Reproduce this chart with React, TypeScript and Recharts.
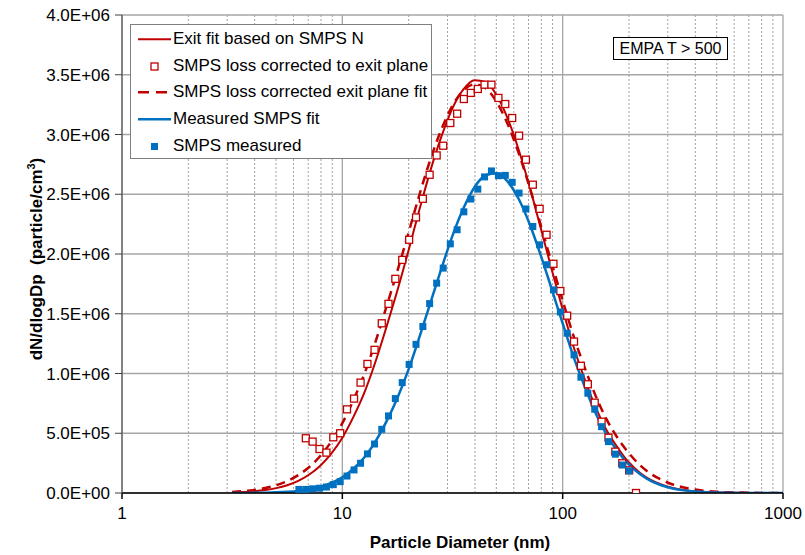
import React from 'react';
import {
  ComposedChart,
  Line,
  Scatter,
  XAxis,
  YAxis,
  CartesianGrid,
  ReferenceLine
} from 'recharts';

// SMPS channel mid-points (nm)
const SMPS_DIAM = [
  6.35, 6.83, 7.33, 7.88, 8.47, 9.10, 9.78, 10.5, 11.3, 12.1,
  13.0, 14.0, 15.1, 16.2, 17.4, 18.7, 20.1, 21.6, 23.2, 24.9,
  26.8, 28.7, 30.9, 33.2, 35.6, 38.3, 41.2, 44.2, 47.5, 51.1,
  54.9, 59.0, 63.4, 68.1, 73.2, 78.6, 84.5, 90.8, 97.6, 104.8,
  112.6, 121.0, 130.1, 139.8, 150.2, 161.4, 173.4, 186.4, 200.3, 215.2
];

// SMPS loss corrected to exit plane (red open squares)
const LOSS_CORRECTED = [
  null, 458000, 430000, 368000, 338000, 466000, 500000, 700000, 790000, 924000,
  1080000, 1198000, 1420000, 1583000, 1792000, 1951000, 2119000, 2306000, 2462000, 2663000,
  2825000, 2906000, 3096000, 3174000, 3297000, 3348000, 3381000, 3417000, 3417000, 3306000,
  3255000, 3138000, 2990000, 2789000, 2580000, 2378000, 2161000, 1918000, 1690000, 1484000,
  1267000, 1064000, 910000, 756000, 597000, 463000, 346000, 249000, 190000, 0
];

// SMPS measured (blue filled squares)
const MEASURED = [
  30000, 30000, 35000, 40000, 50000, 70000, 95000, 142000, 193000, 249000,
  327000, 410000, 533000, 645000, 790000, 924000, 1076000, 1244000, 1393000, 1585000,
  1756000, 1882000, 2085000, 2203000, 2353000, 2460000, 2543000, 2645000, 2695000, 2655000,
  2658000, 2600000, 2510000, 2377000, 2230000, 2077000, 1910000, 1700000, 1515000, 1337000,
  1156000, 969000, 835000, 701000, 555000, 430000, 325000, 234000, 185000, null
];

// diameters where the fitted curves were read (nm)
const FIT_DIAM = [
  3.16, 3.55, 3.98, 4.47, 5.01, 5.62, 6.31, 7.08, 7.94, 8.91,
  10, 11.2, 12.6, 14.1, 15.8, 17.8, 20.0, 22.4, 25.1, 28.2,
  31.6, 35.5, 39.8, 44.7, 50.1, 56.2, 63.1, 70.8, 79.4, 89.1,
  100, 112, 126, 141, 158, 178, 200, 224, 251, 282,
  316, 355, 398, 447, 501, 562, 631, 708, 794, 891, 1000
];

const EXIT_FIT = [
  4700, 8400, 14600, 24700, 40600, 65200, 101700, 154500, 228700, 329700,
  462600, 632800, 842000, 1092000, 1380000, 1698000, 2034000, 2374000, 2698000, 2986000,
  3219000, 3379000, 3455000, 3439000, 3331000, 3137000, 2875000, 2562000, 2221000, 1873000,
  1536000, 1226000, 951000, 718000, 527000, 377000, 255000, 170000, 110000, 70000,
  43000, 26000, 15400, 9000, 5000, 2700, 1500, 760, 380, 180, 90
];

const LOSS_FIT = [
  9400, 15800, 26000, 41800, 65500, 100100, 149500, 218000, 310000, 431000,
  584000, 773000, 998000, 1258000, 1549000, 1861000, 2182000, 2498000, 2792000, 3045000,
  3242000, 3370000, 3420000, 3387000, 3274000, 3090000, 2846000, 2559000, 2246000, 1925000,
  1610000, 1314000, 1047000, 815000, 618000, 458000, 332000, 234000, 161000, 109000,
  71400, 45800, 28700, 17500, 10400, 6100, 3400, 1900, 1000, 550, 280
];

const MEASURED_FIT = [
  330, 690, 1400, 2800, 5300, 9900, 17700, 30700, 51600, 84000,
  132000, 202000, 299000, 428000, 593000, 797000, 1036000, 1306000, 1592000, 1881000,
  2152000, 2385000, 2559000, 2659000, 2676000, 2608000, 2462000, 2251000, 1993000, 1709000,
  1419000, 1141000, 889000, 670000, 490000, 347000, 237000, 158000, 101000, 63000,
  38000, 22000, 12500, 6900, 3600, 1900, 900, 450, 200, 100, 40
];

const X_TICKS = [1, 10, 100, 1000];
const X_MINOR = [2, 3, 4, 5, 6, 7, 8, 9, 20, 30, 40, 50, 60, 70, 80, 90, 200, 300, 400, 500, 600, 700, 800, 900];
const Y_TICKS = [0, 500000, 1000000, 1500000, 2000000, 2500000, 3000000, 3500000, 4000000];

const RED = '#c00000';
const BLUE = '#0070c0';
const FONT = '"Liberation Sans", Arial, sans-serif';

const toPoints = (xs: number[], ys: (number | null)[]) =>
  xs.map((d, i) => ({ d, v: ys[i] })).filter(p => p.v !== null);

const lossPts = toPoints(SMPS_DIAM, LOSS_CORRECTED);
const measPts = toPoints(SMPS_DIAM, MEASURED);
const exitFit = toPoints(FIT_DIAM, EXIT_FIT);
const lossFit = toPoints(FIT_DIAM, LOSS_FIT);
const measFit = toPoints(FIT_DIAM, MEASURED_FIT);

const fmtSci = (v: number) => {
  if (v === 0) return '0.0E+00';
  const e = Math.floor(Math.log10(v));
  const m = v / Math.pow(10, e);
  return `${m.toFixed(1)}E+${String(e).padStart(2, '0')}`;
};

const OpenSquare = (props: any) => (
  <rect x={props.cx - 3.5} y={props.cy - 3.5} width={7} height={7} fill="#fff" stroke={RED} strokeWidth={1.3} />
);

const FilledSquare = (props: any) => (
  <rect x={props.cx - 3.5} y={props.cy - 3.5} width={7} height={7} fill={BLUE} />
);

const legendRows = [
  { label: 'Exit fit based on SMPS N', kind: 'line', color: RED, dash: undefined, width: 2 },
  { label: 'SMPS loss corrected to exit plane', kind: 'open', color: RED },
  { label: 'SMPS loss corrected exit plane fit', kind: 'line', color: RED, dash: '11 7', width: 2.5 },
  { label: 'Measured SMPS fit', kind: 'line', color: BLUE, dash: undefined, width: 2.5 },
  { label: 'SMPS measured', kind: 'filled', color: BLUE }
];

const ChartLegend = () => (
  <div style={{
    position: 'absolute', left: 130, top: 24, width: 300, height: 133,
    border: '1px solid #7f7f7f', background: '#fff', fontFamily: FONT, fontSize: 17
  }}>
    {legendRows.map((r, i) => (
      <div key={i} style={{ position: 'absolute', left: 0, top: 1 + i * 26.7, height: 26.7, width: '100%' }}>
        <svg width={36} height={26.7} style={{ position: 'absolute', left: 6, top: 0 }}>
          {r.kind === 'line' && (
            <line x1={1} x2={34} y1={13.3} y2={13.3} stroke={r.color} strokeWidth={r.width} strokeDasharray={r.dash} />
          )}
          {r.kind === 'open' && <rect x={14} y={10} width={7} height={7} fill="#fff" stroke={r.color} strokeWidth={1.3} />}
          {r.kind === 'filled' && <rect x={14} y={10} width={7} height={7} fill={r.color} />}
        </svg>
        <span style={{ position: 'absolute', left: 42, top: 0, lineHeight: '26.7px', whiteSpace: 'nowrap', color: '#000' }}>
          {r.label}
        </span>
      </div>
    ))}
  </div>
);

export default function App() {
  return (
    <div style={{ position: 'absolute', left: 0, top: 0, width: 805, height: 555, background: '#fff', fontFamily: FONT }}>
      <ComposedChart width={805} height={555} margin={{ top: 15, right: 22, left: 0, bottom: 0 }}>
        <CartesianGrid stroke="#a6a6a6" strokeWidth={1.3} />
        {X_MINOR.map(x => (
          <ReferenceLine key={x} x={x} stroke="#a0a0a0" strokeDasharray="2 2" strokeWidth={1} />
        ))}
        <XAxis
          type="number"
          dataKey="d"
          scale="log"
          domain={[1, 1000]}
          ticks={X_TICKS}
          allowDataOverflow
          height={62}
          tickSize={6}
          tickMargin={8}
          stroke="#000"
          strokeWidth={1.5}
          tick={{ fill: '#000', fontSize: 17, fontFamily: FONT }}
        />
        <YAxis
          type="number"
          dataKey="v"
          domain={[0, 4000000]}
          ticks={Y_TICKS}
          allowDataOverflow
          width={122}
          tickSize={7}
          tickMargin={5}
          stroke="#404040"
          tickFormatter={fmtSci}
          tick={{ fill: '#000', fontSize: 17, fontFamily: FONT }}
        />
        <Scatter data={lossPts} shape={OpenSquare} isAnimationActive={false} />
        <Line data={lossFit} dataKey="v" type="monotone" stroke={RED} strokeWidth={2.5} strokeDasharray="9 6" dot={false} isAnimationActive={false} />
        <Line data={exitFit} dataKey="v" type="monotone" stroke={RED} strokeWidth={2} dot={false} isAnimationActive={false} />
        <Scatter data={measPts} shape={FilledSquare} isAnimationActive={false} />
        <Line data={measFit} dataKey="v" type="monotone" stroke={BLUE} strokeWidth={2.5} dot={false} isAnimationActive={false} />
      </ComposedChart>

      <ChartLegend />

      <div style={{
        position: 'absolute', left: 613, top: 37, width: 113, height: 21,
        border: '1px solid #000', background: '#fff', fontSize: 16, lineHeight: '21px', textAlign: 'center'
      }}>
        EMPA T &gt; 500
      </div>

      <div style={{
        position: 'absolute', left: 310, top: 533, width: 300, textAlign: 'center',
        fontWeight: 'bold', fontSize: 17, lineHeight: '20px'
      }}>
        Particle Diameter (nm)
      </div>

      <div style={{
        position: 'absolute', left: 31 - 150, top: 259 - 10, width: 300, height: 20, textAlign: 'center',
        fontWeight: 'bold', fontSize: 17, lineHeight: '20px', transform: 'rotate(-90deg)', whiteSpace: 'pre'
      }}>
        {'dN/dlogDp  (particle/cm'}<sup style={{ fontSize: 11 }}>3</sup>{')'}
      </div>
    </div>
  );
}
